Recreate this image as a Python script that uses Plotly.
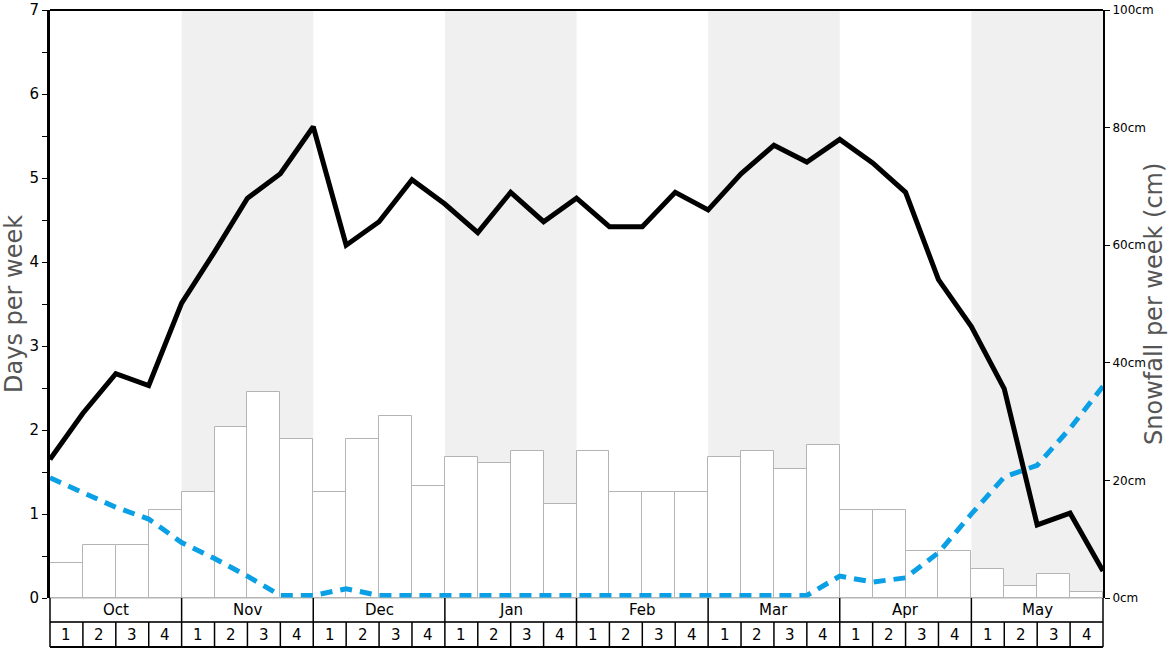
import plotly.graph_objects as go

months = ["Oct", "Nov", "Dec", "Jan", "Feb", "Mar", "Apr", "May"]
week_labels = ["1", "2", "3", "4"]

# Snowfall per week (cm), one value per week (32 weeks)
snowfall_cm = [6, 9, 9, 15, 18, 29, 35, 27,
               18, 27, 31, 19, 24, 23, 25, 16,
               25, 18, 18, 18, 24, 25, 22, 26,
               15, 15, 8, 8, 5, 2, 4, 1]

# Days per week lines, sampled at week boundaries (33 points)
days_black = [1.65, 2.2, 2.67, 2.53, 3.51, 4.12, 4.76, 5.05, 5.61,
              4.2, 4.48, 4.98, 4.69, 4.35, 4.83, 4.48, 4.76,
              4.42, 4.42, 4.83, 4.62, 5.05, 5.39, 5.19, 5.46,
              5.18, 4.83, 3.79, 3.23, 2.49, 0.87, 1.01, 0.32]
days_blue = [1.43, 1.25, 1.08, 0.94, 0.66, 0.47, 0.26, 0.03, 0.03,
             0.11, 0.03, 0.03, 0.03, 0.03, 0.03, 0.03, 0.03,
             0.03, 0.03, 0.03, 0.03, 0.03, 0.03, 0.03, 0.26,
             0.19, 0.24, 0.54, 1.0, 1.44, 1.58, 2.02, 2.52]

snow_ticks = [0, 20, 40, 60, 80, 100]
snow_tick_text = [f"{v}cm" for v in snow_ticks]

n_weeks = len(snowfall_cm)
bar_x = [i + 0.5 for i in range(n_weeks)]
line_x = list(range(len(days_black)))

fig = go.Figure()

fig.add_trace(go.Bar(
    x=bar_x, y=snowfall_cm, width=1.0, yaxis="y",
    marker=dict(color="white", line=dict(color="#b4b4b4", width=1)),
    showlegend=False, hoverinfo="skip",
))
fig.add_trace(go.Scatter(
    x=line_x, y=days_blue, yaxis="y2", mode="lines",
    line=dict(color="#0ba0e6", width=5, dash="12px,8px"),
    showlegend=False, cliponaxis=False,
))
fig.add_trace(go.Scatter(
    x=line_x, y=days_black, yaxis="y2", mode="lines",
    line=dict(color="black", width=5),
    showlegend=False,
))

# plot area is 1053 x 588 px
PW, PH = 1053.0, 588.0

shapes = []
for m in range(1, len(months), 2):
    shapes.append(dict(type="rect", xref="x", yref="paper",
                       x0=m * 4, x1=m * 4 + 4, y0=0, y1=1,
                       fillcolor="#f0f0f0", line=dict(width=0), layer="below"))
shapes.append(dict(type="line", xref="paper", yref="paper", x0=0, x1=1, y0=1, y1=1,
                   line=dict(color="black", width=2)))

row1 = -24 / PH
row2 = -49 / PH
shapes.append(dict(type="line", xref="paper", yref="paper", x0=0, x1=1, y0=0, y1=0,
                   line=dict(color="#b4b4b4", width=1)))
shapes.append(dict(type="line", xref="paper", yref="paper", x0=0, x1=1, y0=row1, y1=row1,
                   line=dict(color="#333333", width=2)))
shapes.append(dict(type="line", xref="paper", yref="paper", x0=0, x1=1, y0=row2, y1=row2,
                   line=dict(color="black", width=2)))
for i in range(n_weeks + 1):
    xp = i / n_weeks
    y0 = 0 if i % 4 == 0 else row1
    shapes.append(dict(type="line", xref="paper", yref="paper", x0=xp, x1=xp,
                       y0=y0, y1=row2, line=dict(color="black", width=1.5)))

annotations = []
for m, name in enumerate(months):
    annotations.append(dict(x=m * 4 + 2, y=-12 / PH, xref="x", yref="paper",
                            text=name, showarrow=False,
                            font=dict(size=15, color="black"),
                            xanchor="center", yanchor="middle"))
    for w, wl in enumerate(week_labels):
        annotations.append(dict(x=m * 4 + w + 0.5, y=-37 / PH, xref="x", yref="paper",
                                text=wl, showarrow=False,
                                font=dict(size=15, color="black"),
                                xanchor="center", yanchor="middle"))
annotations.append(dict(x=-36 / PW, y=0.5, xref="paper", yref="paper",
                        text="Days per week", textangle=-90, showarrow=False,
                        font=dict(size=24, color="#555555"),
                        xanchor="center", yanchor="middle"))
annotations.append(dict(x=1104 / PW, y=0.5, xref="paper", yref="paper",
                        text="Snowfall per week (cm)", textangle=-90, showarrow=False,
                        font=dict(size=24, color="#555555"),
                        xanchor="center", yanchor="middle"))

fig.update_layout(
    width=1168, height=648,
    margin=dict(l=50, r=65, t=10, b=50, autoexpand=False),
    paper_bgcolor="white", plot_bgcolor="white",
    font=dict(family="DejaVu Sans", color="black"),
    bargap=0,
    xaxis=dict(range=[0, 32], showgrid=False, zeroline=False, showline=False,
               showticklabels=False, ticks=""),
    yaxis=dict(range=[0, 100], side="right", showgrid=False, zeroline=False,
               showline=True, linecolor="black", linewidth=2,
               ticks="outside", ticklen=5, tickcolor="black", tickwidth=1,
               tickmode="array", tickvals=snow_ticks, ticktext=snow_tick_text,
               tickfont=dict(size=12, color="black")),
    yaxis2=dict(range=[0, 7], side="left", overlaying="y", showgrid=False,
                zeroline=False, showline=True, linecolor="black", linewidth=3,
                ticks="outside", ticklen=5, tickcolor="black", tickwidth=1,
                tickvals=[0, 1, 2, 3, 4, 5, 6, 7],
                minor=dict(tickvals=[0.5, 1.5, 2.5, 3.5, 4.5, 5.5, 6.5],
                           ticks="outside", ticklen=5, tickcolor="black", showgrid=False),
                tickfont=dict(size=15, color="black")),
    shapes=shapes,
    annotations=annotations,
)

fig.write_html("out.html",
               config={"displayModeBar": False},
               post_script="document.body.style.margin='0';document.body.style.padding='0';")
